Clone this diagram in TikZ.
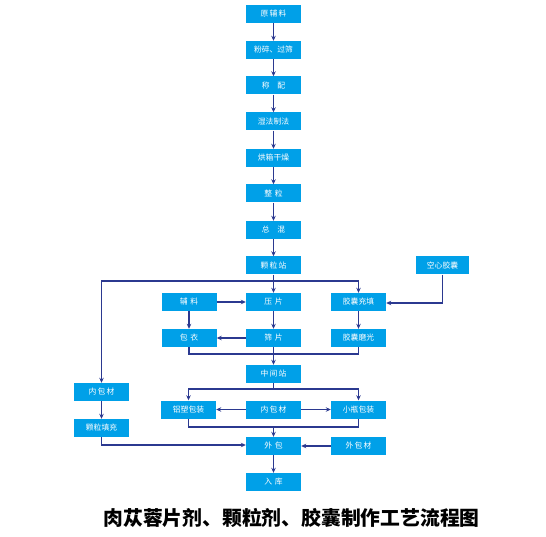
\documentclass[tikz,border=0pt]{standalone}
\usepackage{fontspec}
\newfontfamily\cjk{Noto Sans CJK SC}
\usetikzlibrary{arrows.meta}
\definecolor{boxblue}{RGB}{0,160,232}
\definecolor{linenavy}{RGB}{43,57,144}
\tikzset{
  pbox/.style={fill=boxblue, draw=none, minimum width=55pt, minimum height=18pt, inner sep=0pt,
    text=white, font=\cjk\fontsize{7.8}{8}\selectfont},
  conn/.style={draw=linenavy, line width=1.6pt},
  arr/.style={conn, -{Stealth[length=5pt,width=4.5pt]}},
}
\begin{document}
\begin{tikzpicture}[x=1pt,y=-1pt]
\useasboundingbox (0,0) rectangle (546,537);
% main column
\node[pbox] (yfl) at (273.5,14) {原\,辅\,料};
\node[pbox] (fs) at (273.5,50) {粉碎、过筛};
\node[pbox] (cp) at (273.5,85.5) {称\quad 配};
\node[pbox] (sf) at (273.5,121.5) {湿法制法};
\node[pbox] (hx) at (273.5,158) {烘箱干燥};
\node[pbox] (zl) at (273.5,193.5) {整\,\,粒};
\node[pbox] (zh) at (273.5,230) {总\quad 混};
\node[pbox] (klz) at (273.5,265.5) {颗\,粒\,站};
\node[pbox, minimum width=53pt] (kx) at (442.5,265.5) {空心胶囊};
% row 2
\node[pbox] (fl) at (189,302) {辅\,\,料};
\node[pbox] (yp) at (273.5,302) {压\,\,片};
\node[pbox] (jc) at (358.5,302) {胶囊充填};
% row 3
\node[pbox] (by) at (189,338) {包\,\,衣};
\node[pbox] (sp) at (273.5,338) {筛\,\,片};
\node[pbox] (jm) at (358.5,338) {胶囊磨光};
% middle
\node[pbox] (zjz) at (273.5,374) {中\,间\,站};
\node[pbox] (ls) at (188.5,409.5) {铝塑包装};
\node[pbox] (nbc) at (273.5,409.5) {内\,包\,材};
\node[pbox] (xp) at (358.5,409.5) {小瓶包装};
\node[pbox] (wb) at (273.5,446) {外\,\,包};
\node[pbox] (wbc) at (358.5,446) {外\,包\,材};
\node[pbox] (rk) at (273.5,482) {入\,\,库};
% left column
\node[pbox] (nbl) at (101.5,392) {内\,包\,材};
\node[pbox] (kltc) at (101.5,428) {颗粒填充};
% helper coordinates
\coordinate (ya) at (0,281);
\coordinate (yb) at (0,354);
\coordinate (yc) at (0,389);
\coordinate (yd) at (0,427);
% connectors main column
\draw[arr] (yfl) -- (fs);
\draw[arr] (fs) -- (cp);
\draw[arr] (cp) -- (sf);
\draw[arr] (sf) -- (hx);
\draw[arr] (hx) -- (zl);
\draw[arr] (zl) -- (zh);
\draw[arr] (zh) -- (klz);
\draw[arr] (klz) -- (yp);
\draw[arr] (klz.south |- ya) -| (jc.north);
\draw[arr] (klz.south |- ya) -| (nbl.north);
\draw[arr] (kx.south) |- ([yshift=-1pt]jc.east);
\draw[arr] (fl) -- (yp);
\draw[arr] (fl) -- (by);
\draw[arr] (yp) -- (sp);
\draw[arr] (sp) -- (by);
\draw[arr] (jc) -- (jm);
\draw[conn] (by.south) |- (jm.south |- yb) -- (jm.south);
\draw[arr] (sp) -- (zjz);
\draw[conn] (zjz.south) -- (zjz.south |- yc);
\draw[arr] (zjz.south |- yc) -| (ls.north);
\draw[arr] (zjz.south |- yc) -| (xp.north);
\draw[arr] (nbc) -- (ls);
\draw[arr] (nbc) -- (xp);
\draw[conn] (ls.south) |- (xp.south |- yd) -- (xp.south);
\draw[arr] (nbc.south |- yd) -- (wb.north);
\draw[arr] (wbc) -- (wb);
\draw[arr] (wb) -- (rk);
\draw[arr] (nbl) -- (kltc);
\draw[arr] (kltc.south) |- ([yshift=1pt]wb.west);
% title
\node[font=\cjk\bfseries\fontsize{19.8}{21}\selectfont, inner sep=0pt] (title) at (291.5,517.5) {肉苁蓉片剂、颗粒剂、胶囊制作工艺流程图};
\end{tikzpicture}
\end{document}
